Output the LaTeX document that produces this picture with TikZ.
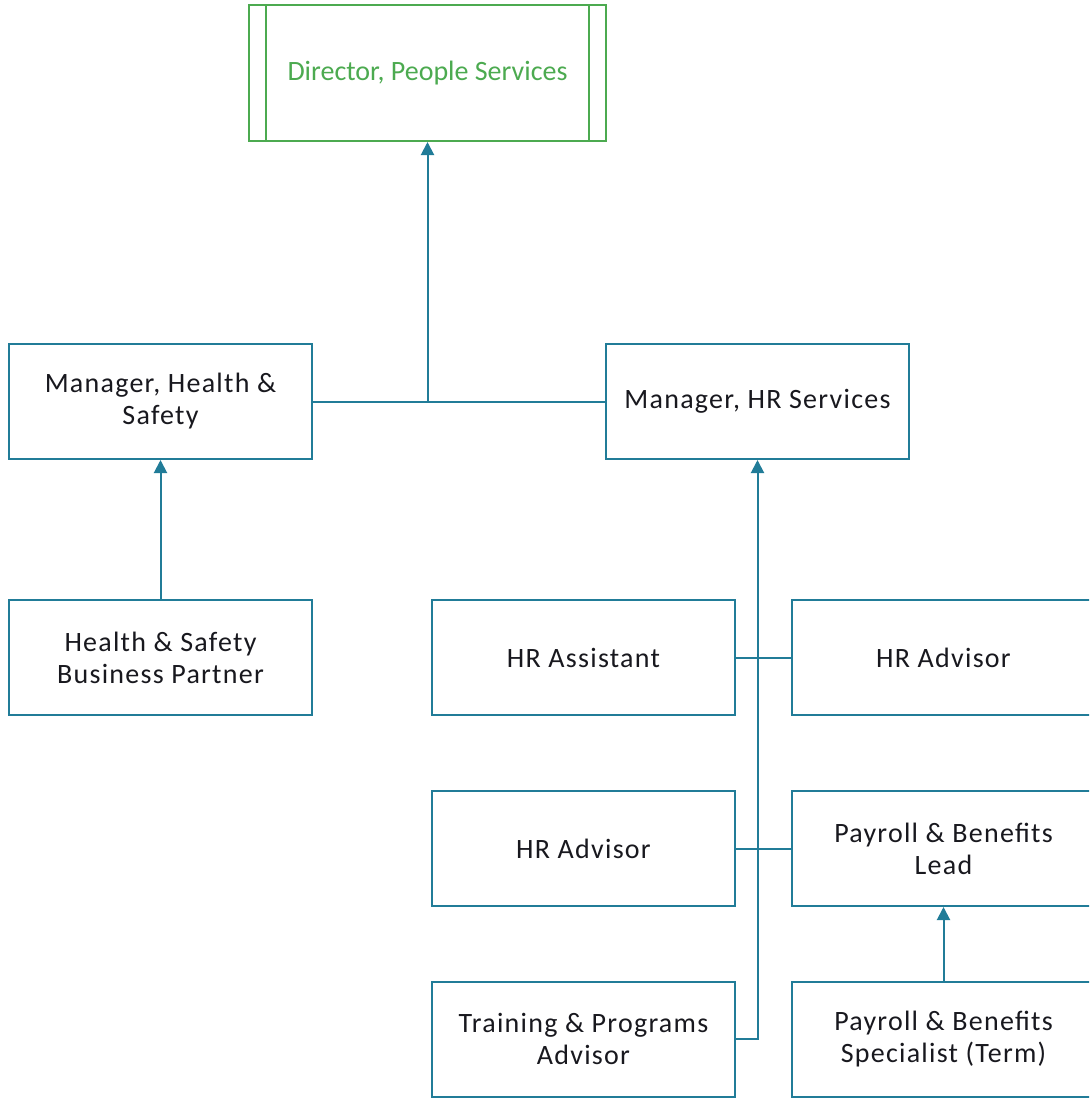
\documentclass[tikz,border=0pt]{standalone}
\usepackage{fontspec}
\setmainfont{Carlito}
\newfontfamily\spaced{Carlito}[LetterSpace=4.5]
\usepackage{tikz}
\usetikzlibrary{arrows.meta}
\definecolor{orgline}{RGB}{33,124,152}
\definecolor{orggreen}{RGB}{76,170,80}
\definecolor{orgtext}{RGB}{24,24,30}

\begin{document}
\begin{tikzpicture}[x=0.5pt,y=-0.5pt]
\tikzstyle{role} = [draw=orgline,line width=1pt,minimum width=151.5pt,minimum height=57.5pt,align=center,text=orgtext,font=\spaced\fontsize{14}{16}\selectfont,inner sep=0pt];
\tikzstyle{head} = [draw=orggreen,line width=1pt,minimum width=178.5pt,minimum height=68pt,text=orggreen,font=\fontsize{14}{16}\selectfont,inner sep=0pt];
\tikzstyle{link} = [draw=orgline,line width=1pt];
\tikzstyle{alloc} = [link,-{Triangle[length=6.5pt,width=6.5pt]}];
\useasboundingbox (0,0) rectangle (1089,1099);
\clip (0,0) rectangle (1089,1099);

\node [head] (dir) at (427.5,73) {Director, People Services};
\draw [draw=orggreen,line width=1pt] ([xshift=9pt]dir.north west) -- ([xshift=9pt]dir.south west);
\draw [draw=orggreen,line width=1pt] ([xshift=-9pt]dir.north east) -- ([xshift=-9pt]dir.south east);

\node [role] (mhs) at (160.5,401.5) {Manager, Health \&\\Safety};
\node [role] (mhr) at (757.5,401.5) {Manager, HR Services};
\node [role] (hsp) at (160.5,657.5) {Health \& Safety\\Business Partner};

\node [role] (hra) at (583.5,657.5) {HR Assistant};
\node [role] (hrb) at (943.5,657.5) {HR Advisor};
\node [role] (hrc) at (583.5,848.5) {HR Advisor};
\node [role] (pbl) at (943.5,848.5) {Payroll \& Benefits\\Lead};
\node [role] (trn) at (583.5,1039) {Training \& Programs\\Advisor};
\node [role] (pbs) at (943.5,1039) {Payroll \& Benefits\\Specialist (Term)};

\coordinate (j1) at (dir.south |- mhs.east);
\coordinate (j2) at (mhr.south |- trn.east);

\draw [link] (mhs.east) -- (mhr.west);
\draw [alloc] (j1) -- (dir.south);
\draw [alloc] (hsp) -- (mhs);
\draw [alloc] (trn.east) -- (j2) -- (mhr.south);
\draw [link] (hra.east) -- (hrb.west);
\draw [link] (hrc.east) -- (pbl.west);
\draw [alloc] (pbs) -- (pbl);
\end{tikzpicture}
\end{document}
